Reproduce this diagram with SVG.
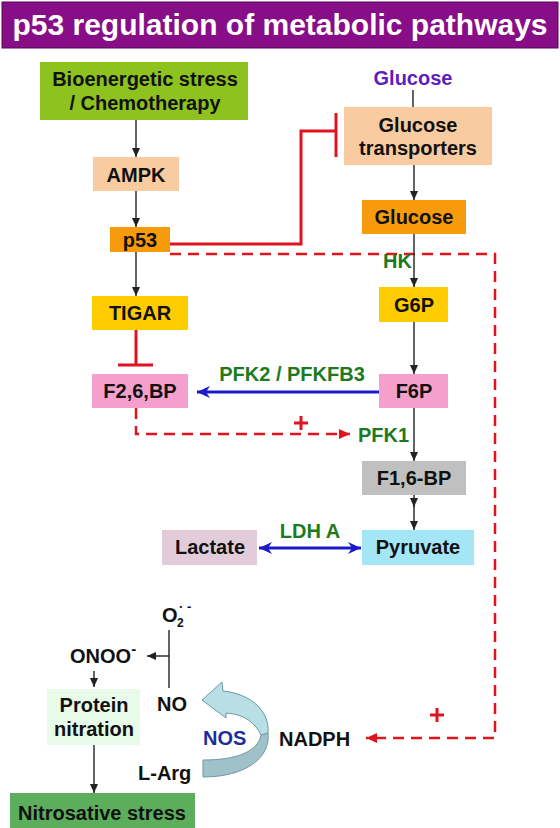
<svg xmlns="http://www.w3.org/2000/svg" width="560" height="828" viewBox="0 0 560 828">
<defs>
<style>
text{font-family:"Liberation Sans",Arial,sans-serif;font-weight:bold;}
.t{font-size:20px;fill:#111;text-anchor:middle;}
.g{font-size:20px;fill:#1E7A1E;}
.p{font-size:20px;fill:#111;}
.k{stroke:#222;stroke-width:1.4;fill:none;}
.red{stroke:#E0141E;stroke-width:3;fill:none;}
.dash{stroke:#E0141E;stroke-width:2.5;fill:none;stroke-dasharray:11 7;}
.blue{stroke:#1A1AC8;stroke-width:3;fill:none;}
</style>
<marker id="ak" markerWidth="10" markerHeight="10" refX="9" refY="5" orient="auto" markerUnits="userSpaceOnUse">
<path d="M0,1 L9,5 L0,9 Z" fill="#222"/>
</marker>
<marker id="ar" markerWidth="12" markerHeight="12" refX="11" refY="6" orient="auto" markerUnits="userSpaceOnUse">
<path d="M0,1 L11,6 L0,11 Z" fill="#E0141E"/>
</marker>
<marker id="ab" markerWidth="14" markerHeight="14" refX="13" refY="7" orient="auto-start-reverse" markerUnits="userSpaceOnUse">
<path d="M0,1 L13,7 L0,13 L4,7 Z" fill="#1A1AC8"/>
</marker>
</defs>
<rect width="560" height="828" fill="#fff"/>
<g id="title">
<rect x="2" y="2" width="556" height="46" fill="#880E88" stroke="#5A005A" stroke-width="1"/>
<text x="280" y="35" text-anchor="middle" font-size="30" fill="#fff">p53 regulation of metabolic pathways</text>
</g>
<g id="connectors">
<line class="k" x1="136" y1="120" x2="136" y2="157" marker-end="url(#ak)"/>
<line class="k" x1="136" y1="191" x2="136" y2="227" marker-end="url(#ak)"/>
<line class="k" x1="136" y1="252" x2="136" y2="296" marker-end="url(#ak)"/>
<path class="red" d="M170,244 H301 V131 H336"/>
<line class="red" x1="336" y1="113" x2="336" y2="157"/>
<line class="red" x1="136" y1="330" x2="136" y2="365"/>
<line class="red" x1="118" y1="365" x2="153" y2="365"/>
<path class="dash" d="M170,254 H495 V738 H366" marker-end="url(#ar)"/>
<line class="k" x1="413" y1="90" x2="413" y2="107"/>
<line class="k" x1="414" y1="165" x2="414" y2="200" marker-end="url(#ak)"/>
<line class="k" x1="414" y1="234" x2="414" y2="287" marker-end="url(#ak)"/>
<line class="k" x1="414" y1="322" x2="414" y2="374" marker-end="url(#ak)"/>
<line class="k" x1="414" y1="408" x2="414" y2="461" marker-end="url(#ak)"/>
<line class="k" x1="414" y1="495" x2="414" y2="507" marker-end="url(#ak)"/>
<line class="k" x1="414" y1="505" x2="414" y2="530" marker-end="url(#ak)"/>
<line class="blue" x1="379" y1="392" x2="197" y2="392" marker-end="url(#ab)"/>
<line class="blue" x1="259" y1="548" x2="361" y2="548" marker-start="url(#ab)" marker-end="url(#ab)"/>
<path class="dash" d="M136,408 V434 H350" stroke-width="2" marker-end="url(#ar)"/>
<path d="M301,416 V430 M294,423 H308" stroke="#E0141E" stroke-width="3"/>
<path d="M437,708 V722 M430,715 H444" stroke="#E0141E" stroke-width="3"/>
<line class="k" x1="169" y1="630" x2="169" y2="688"/>
<line class="k" x1="169" y1="656" x2="147" y2="656" marker-end="url(#ak)"/>
<line class="k" x1="94" y1="671" x2="94" y2="687" marker-end="url(#ak)"/>
<line class="k" x1="94" y1="745" x2="94" y2="793" marker-end="url(#ak)"/>
</g>
<g id="bioenergetic">
<rect x="40" y="62" width="208" height="58" fill="#8DC21F"/>
<text class="t" x="145" y="86">Bioenergetic stress</text>
<text class="t" x="145" y="110">/ Chemotherapy</text>
</g>
<g id="ampk">
<rect x="93" y="157" width="86" height="34" fill="#F9CBA0"/>
<text class="t" x="136" y="182">AMPK</text>
</g>
<g id="p53">
<rect x="110" y="227" width="60" height="25" fill="#F79A0B"/>
<text class="t" x="140" y="247">p53</text>
</g>
<g id="tigar">
<rect x="92" y="296" width="96" height="34" fill="#FFCC00"/>
<text class="t" x="140" y="320">TIGAR</text>
</g>
<g id="f26bp">
<rect x="92" y="374" width="96" height="34" fill="#F5A0CC"/>
<text class="t" x="140" y="398">F2,6,BP</text>
</g>
<g id="glucose-label">
<text class="t" x="413" y="85" style="fill:#5B1FBF">Glucose</text>
</g>
<g id="glut">
<rect x="344" y="107" width="148" height="58" fill="#F9CBA0"/>
<text class="t" x="418" y="132">Glucose</text>
<text class="t" x="418" y="155">transporters</text>
</g>
<g id="glucose">
<rect x="362" y="200" width="104" height="34" fill="#F79A0B"/>
<text class="t" x="414" y="224">Glucose</text>
</g>
<g id="hk"><text class="g" x="412" y="268" text-anchor="end">HK</text></g>
<g id="g6p">
<rect x="379" y="287" width="69" height="35" fill="#FFCC00"/>
<text class="t" x="414" y="312">G6P</text>
</g>
<g id="f6p">
<rect x="379" y="374" width="69" height="34" fill="#F5A0CC"/>
<text class="t" x="414" y="398">F6P</text>
</g>
<g id="pfk2"><text class="g" x="292" y="381" text-anchor="middle">PFK2 / PFKFB3</text></g>
<g id="pfk1"><text class="g" x="358" y="442">PFK1</text></g>
<g id="f16bp">
<rect x="362" y="461" width="104" height="34" fill="#C0C0C0"/>
<text class="t" x="414" y="485">F1,6-BP</text>
</g>
<g id="pyruvate">
<rect x="362" y="530" width="112" height="35" fill="#A4E6F6"/>
<text class="t" x="418" y="554">Pyruvate</text>
</g>
<g id="lactate">
<rect x="162" y="530" width="95" height="35" fill="#E2CCDA"/>
<text class="t" x="210" y="554">Lactate</text>
</g>
<g id="ldha"><text class="g" x="310" y="538" text-anchor="middle">LDH A</text></g>
<g id="o2">
<text class="p" x="162" y="622">O</text>
<text x="177" y="627" font-size="12" fill="#111">2</text>
<text x="179" y="611" font-size="13" fill="#111">· -</text>
</g>
<g id="onoo">
<text class="p" x="70" y="663">ONOO<tspan font-size="15" dy="-9">-</tspan></text>
</g>
<g id="protein-nitration">
<rect x="47" y="689" width="93" height="56" fill="#E8FBE8"/>
<text class="t" x="94" y="712">Protein</text>
<text class="t" x="94" y="736">nitration</text>
</g>
<g id="no"><text class="p" x="157" y="711">NO</text></g>
<g id="nos-arrow">
<path d="M268,733 C271,758 245,777 203,777 L203,760 C238,760 258,751 261,735 Z" fill="#9FC2CA" stroke="#6F99A3" stroke-width="1"/>
<path d="M202,700 L222,682 L223,691 C252,694 270,712 268,733 L261,735 C256,724 245,714 226,713 L226,718 Z" fill="#B8DFE6" stroke="#6F99A3" stroke-width="1"/>
</g>
<g id="nos"><text x="203" y="745" font-size="20" fill="#1A2F9A">NOS</text></g>
<g id="larg"><text class="p" x="138" y="780">L-Arg</text></g>
<g id="nadph"><text class="p" x="279" y="746">NADPH</text></g>
<g id="nitrosative">
<rect x="10" y="793" width="185" height="35" fill="#5CAE5C"/>
<text class="t" x="102" y="820">Nitrosative stress</text>
</g>
</svg>
